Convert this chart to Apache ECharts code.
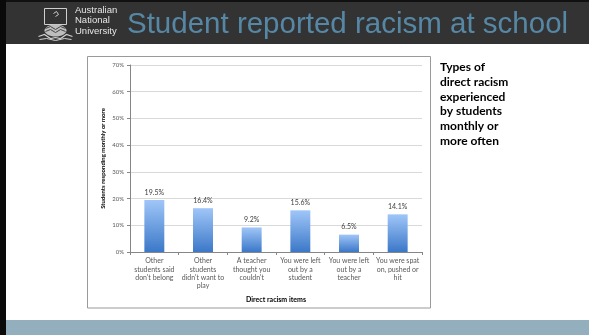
<!DOCTYPE html>
<html>
<head>
<meta charset="utf-8">
<script src="https://cdn.jsdelivr.net/npm/echarts@6/dist/echarts.min.js"></script>
<style>
html,body{margin:0;padding:0;background:#fff;}
#c{width:589px;height:335px;}
</style>
</head>
<body>
<div id="c"></div>
<script>
const categories = [
  "Other\nstudents said\ndon't belong",
  "Other\nstudents\ndidn't want to\nplay",
  "A teacher\nthought you\ncouldn't",
  "You were left\nout by a\nstudent",
  "You were left\nout by a\nteacher",
  "You were spat\non, pushed or\nhit"
];
const values = [19.5, 16.4, 9.2, 15.6, 6.5, 14.1];
const yTicks = [0, 10, 20, 30, 40, 50, 60, 70];
const titleText = "Student reported racism at school";
const sideText = ["Types of", "direct racism", "experienced", "by students", "monthly or", "more often"];

const chart = echarts.init(document.getElementById('c'), null, {renderer:'canvas'});
const F = 'Lato, "Open Sans", sans-serif';
chart.setOption({
  animation:false,
  backgroundColor:'#ffffff',
  graphic:[
    {type:'rect', shape:{x:0,y:0,width:589,height:44}, style:{fill:'#333333'}, z:-10},
    {type:'rect', shape:{x:0,y:0,width:589,height:2}, style:{fill:'#111111'}, z:-9},
    {type:'rect', shape:{x:0,y:320,width:589,height:15}, style:{fill:'#93AEBC'}, z:-10},
    {type:'rect', shape:{x:0,y:0,width:6,height:335}, style:{fill:'#0a0a0a'}, z:-8},
    {type:'rect', shape:{x:87.5,y:56.5,width:343,height:251.5}, style:{fill:'none',stroke:'#9a9a9a',lineWidth:1}, z:-5},
    // crest
    {type:'group', left:36, top:6, children:[
      {type:'rect', shape:{x:6,y:0,width:22,height:16}, style:{fill:'none',stroke:'#cfcfcf',lineWidth:1}},
      {type:'polyline', shape:{points:[[15,5],[18,3],[20,6],[17,8]]}, style:{fill:'none',stroke:'#cfcfcf',lineWidth:1}},
      {type:'ellipse', shape:{cx:17,cy:22,rx:11,ry:6}, style:{fill:'#bdbdbd'}},
      {type:'polyline', shape:{points:[[7,20],[12,18],[17,21],[22,18],[27,20]]}, style:{fill:'none',stroke:'#444',lineWidth:1}},
      {type:'polyline', shape:{points:[[7,23],[12,21],[17,24],[22,21],[27,23]]}, style:{fill:'none',stroke:'#444',lineWidth:1}},
      {type:'polyline', shape:{points:[[0,28],[6,26],[12,30],[17,29],[22,30],[28,26],[34,28]]}, style:{fill:'none',stroke:'#cfcfcf',lineWidth:1.2}},
      {type:'polyline', shape:{points:[[1,31],[8,30],[17,32],[26,30],[33,31]]}, style:{fill:'none',stroke:'#cfcfcf',lineWidth:1}}
    ]},
    {type:'text', left:75, top:5, style:{text:'Australian\nNational\nUniversity', fill:'#e6e6e6', font:'9.5px "Liberation Sans Narrow", "Liberation Sans", sans-serif', lineHeight:10.5}},
    {type:'text', left:127, top:10, style:{text:titleText, fill:'#5688A6', font:'29.5px "Liberation Sans", Arial, sans-serif'}},
    {type:'text', left:440, top:60, style:{text:sideText.join('\n'), fill:'#000', font:'bold 12px '+F, lineHeight:14.7}}
  ],
  grid:{left:130, right:167, top:65, bottom:83},
  xAxis:{
    type:'category', data:categories,
    name:'Direct racism items', nameLocation:'middle', nameGap:44,
    nameTextStyle:{fontFamily:F, fontWeight:'bold', fontSize:7, color:'#000'},
    axisLine:{lineStyle:{color:'#868686', width:1}},
    axisTick:{show:true, alignWithLabel:false, length:3, lineStyle:{color:'#868686'}},
    axisLabel:{interval:0, fontFamily:F, fontSize:7, color:'#595959', lineHeight:8.3, margin:5}
  },
  yAxis:{
    type:'value', min:0, max:70, interval:10,
    name:'Students responding monthly or more', nameLocation:'middle', nameGap:24,
    nameTextStyle:{fontFamily:F, fontWeight:'bold', fontSize:6, color:'#000'},
    axisLine:{show:true, lineStyle:{color:'#868686'}},
    axisTick:{show:true, length:3, lineStyle:{color:'#868686'}},
    splitLine:{lineStyle:{color:'#D9D9D9'}},
    axisLabel:{fontFamily:F, fontSize:6, color:'#595959', margin:6, formatter:'{value}%'}
  },
  series:[{
    type:'bar', data:values, barWidth:'41%',
    itemStyle:{color:new echarts.graphic.LinearGradient(0,0,0,1,[{offset:0,color:'#A0C6F8'},{offset:1,color:'#3B78C8'}])},
    label:{show:true, position:'top', distance:4, fontFamily:F, fontSize:7, color:'#404040', formatter:p=>p.value.toFixed(1)+'%'}
  }]
});
</script>
</body>
</html>
